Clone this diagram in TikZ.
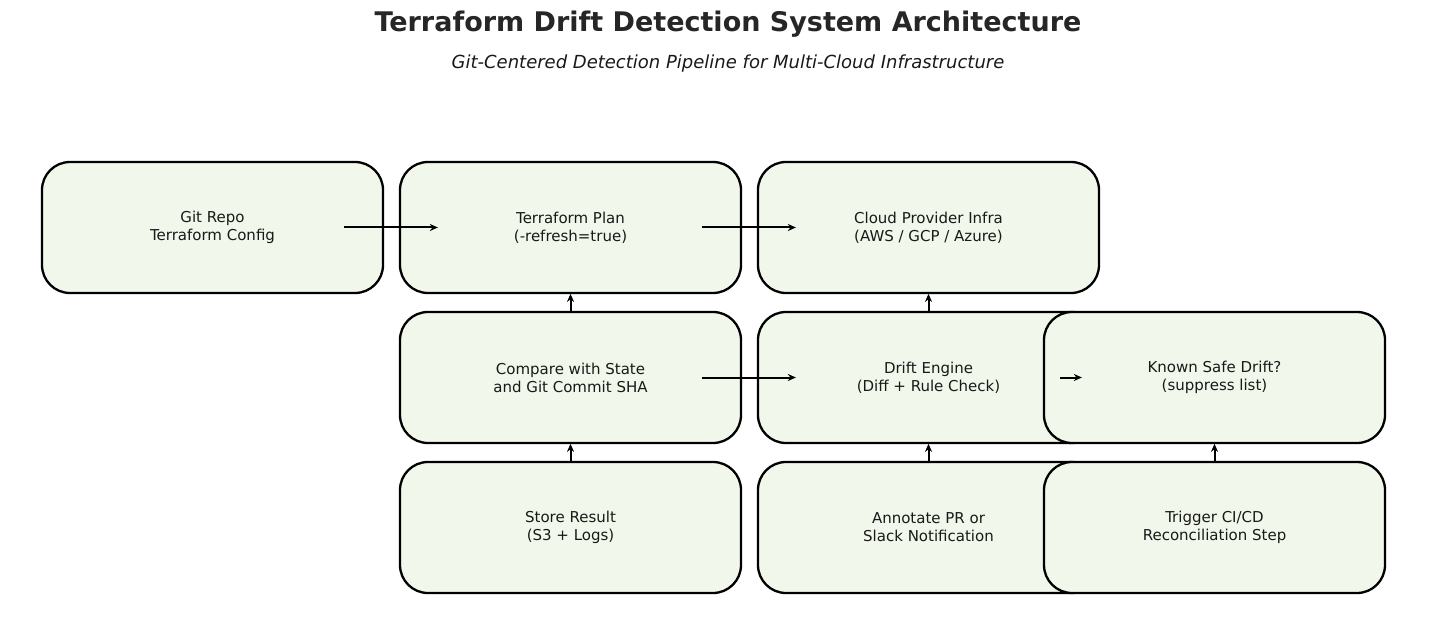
\documentclass[tikz,border=0pt]{standalone}
\usepackage{fontspec}
\setmainfont{DejaVu Sans}
\usetikzlibrary{arrows.meta}
\begin{document}
\begin{tikzpicture}[x=1pt,y=-1pt,
  box/.style={draw=black,line width=2.3pt,fill=boxfill,rounded corners=28pt,minimum width=341pt,minimum height=131pt,align=center,font=\fontsize{15}{18}\selectfont,text=black!90},
  arr/.style={draw=black,line width=2pt,-{Stealth[length=8pt,width=7pt]}}]
\definecolor{boxfill}{HTML}{F1F7EA}
\useasboundingbox (0,0) rectangle (1456,631);
\node[font=\bfseries\fontsize{27}{32}\selectfont,text=black!85] (t) at (728,24) {Terraform Drift Detection System Architecture};
\node[font=\itshape\fontsize{18}{22}\selectfont,text=black!90] (s) at (728,64) {Git-Centered Detection Pipeline for Multi-Cloud Infrastructure};
\node[box] (git) at (212.5,227.5) {Git Repo\\Terraform Config};
\node[box] (plan) at (570.5,227.5) {Terraform Plan\\(-refresh=true)};
\node[box] (cloud) at (928.5,227.5) {Cloud Provider Infra\\(AWS / GCP / Azure)};
\node[box] (cmp) at (570.5,377.5) {Compare with State\\and Git Commit SHA};
\node[box] (drift) at (928.5,377.5) {Drift Engine\\(Diff + Rule Check)};
\node[box] (safe) at (1214.5,377.5) {Known Safe Drift?\\(suppress list)};
\node[box] (store) at (570.5,527.5) {Store Result\\(S3 + Logs)};
\node[box] (pr) at (928.5,527.5) {Annotate PR or\\Slack Notification};
\node[box] (ci) at (1214.5,527.5) {Trigger CI/CD\\Reconciliation Step};
\draw[arr] ([xshift=-40pt]git.east) -- ([xshift=39pt]plan.west);
\draw[arr] ([xshift=-40pt]plan.east) -- ([xshift=39pt]cloud.west);
\draw[arr] ([xshift=-40pt]cmp.east) -- ([xshift=39pt]drift.west);
\draw[arr] ([xshift=-40pt]drift.east) -- ([xshift=39pt]safe.west);
\draw[arr] ([yshift=-19pt]plan.south) -- ([yshift=17pt]cmp.north);
\draw[arr] ([yshift=-19pt]cloud.south) -- ([yshift=17pt]drift.north);
\draw[arr] ([yshift=-19pt]cmp.south) -- ([yshift=17pt]store.north);
\draw[arr] ([yshift=-19pt]drift.south) -- ([yshift=17pt]pr.north);
\draw[arr] ([yshift=-19pt]safe.south) -- ([yshift=17pt]ci.north);
\end{tikzpicture}
\end{document}
